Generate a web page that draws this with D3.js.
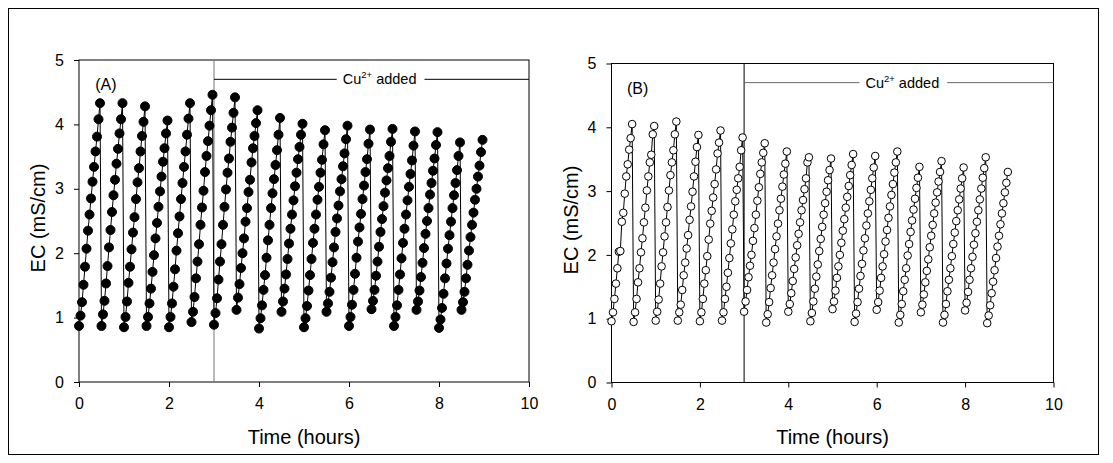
<!DOCTYPE html>
<html><head><meta charset="utf-8">
<script src="https://cdn.jsdelivr.net/npm/d3@7"></script>
<style>
html,body{margin:0;padding:0;background:#fff;}
svg{display:block;font-family:"Liberation Sans",Arial,sans-serif;}
</style></head>
<body>
<svg id="chart" width="1113" height="463"></svg>
<script>
// ---- data ----
const sampleOffsetsMin = [0,2,4,6,8,10,12,14,16,18,20,22,24,26,28];
const cycleStartHours = [0,0.5,1,1.5,2,2.5,3,3.5,4,4.5,5,5.5,6,6.5,7,7.5,8,8.5];
const xTicks = [0,2,4,6,8,10];
const yTicks = [0,1,2,3,4,5];
const cuAddedHour = 3;
const cuLabelLevel = 4.7;

const ecA = [
 [0.87,1.03,1.24,1.51,1.79,2.07,2.35,2.60,2.85,3.11,3.34,3.58,3.81,4.08,4.33],
 [0.87,1.05,1.26,1.53,1.80,2.09,2.36,2.64,2.90,3.14,3.39,3.62,3.86,4.08,4.33],
 [0.85,1.01,1.25,1.54,1.79,2.06,2.32,2.56,2.84,3.10,3.32,3.58,3.82,4.04,4.28],
 [0.87,1.01,1.22,1.45,1.71,1.97,2.23,2.47,2.72,2.96,3.19,3.42,3.63,3.86,4.06],
 [0.85,1.01,1.22,1.48,1.75,2.04,2.31,2.57,2.84,3.09,3.34,3.58,3.84,4.09,4.33],
 [0.93,1.09,1.32,1.61,1.87,2.14,2.44,2.71,2.97,3.26,3.51,3.74,3.98,4.22,4.46],
 [0.89,1.07,1.30,1.59,1.87,2.14,2.44,2.72,2.99,3.25,3.47,3.73,3.95,4.18,4.42],
 [1.12,1.31,1.52,1.77,2.00,2.23,2.49,2.70,2.95,3.14,3.41,3.63,3.82,4.02,4.22],
 [0.83,0.99,1.19,1.43,1.66,1.93,2.20,2.44,2.70,2.93,3.15,3.37,3.60,3.84,4.10],
 [1.09,1.25,1.45,1.67,1.91,2.15,2.38,2.60,2.82,3.04,3.25,3.46,3.65,3.84,4.01],
 [0.85,0.99,1.18,1.42,1.66,1.91,2.16,2.38,2.60,2.83,3.03,3.25,3.45,3.69,3.91],
 [1.09,1.22,1.40,1.62,1.86,2.09,2.33,2.54,2.74,2.96,3.15,3.35,3.55,3.77,3.98],
 [0.87,1.01,1.20,1.43,1.68,1.93,2.18,2.40,2.61,2.84,3.05,3.26,3.46,3.70,3.92],
 [1.13,1.26,1.43,1.65,1.87,2.10,2.33,2.53,2.73,2.94,3.13,3.32,3.51,3.73,3.93],
 [0.87,1.01,1.19,1.43,1.67,1.92,2.16,2.38,2.60,2.82,3.03,3.23,3.44,3.67,3.89],
 [1.12,1.25,1.42,1.63,1.85,2.08,2.30,2.50,2.70,2.91,3.09,3.28,3.47,3.68,3.88],
 [0.84,0.97,1.15,1.37,1.61,1.84,2.07,2.28,2.49,2.70,2.90,3.09,3.29,3.51,3.72],
 [1.12,1.24,1.40,1.61,1.82,2.04,2.25,2.44,2.63,2.83,3.00,3.19,3.36,3.57,3.76]
];

const ecB = [
 [0.96,1.10,1.31,1.55,1.79,2.05,2.06,2.52,2.66,2.96,3.23,3.42,3.65,3.83,4.05],
 [0.95,1.10,1.31,1.57,1.79,2.04,2.26,2.51,2.74,3.01,3.23,3.45,3.57,3.89,4.02],
 [0.97,1.11,1.30,1.55,1.82,2.04,2.29,2.51,2.75,3.01,3.25,3.45,3.64,3.89,4.09],
 [0.97,1.10,1.22,1.45,1.68,1.88,2.10,2.31,2.55,2.76,2.99,3.23,3.46,3.69,3.88],
 [0.96,1.10,1.31,1.55,1.76,1.98,2.24,2.49,2.69,2.90,3.11,3.34,3.59,3.76,3.95],
 [0.97,1.10,1.31,1.50,1.72,1.95,2.18,2.40,2.63,2.84,3.02,3.20,3.38,3.64,3.84],
 [1.11,1.27,1.45,1.65,1.83,2.00,2.22,2.42,2.63,2.85,3.06,3.27,3.45,3.60,3.75],
 [0.94,1.07,1.26,1.48,1.68,1.88,2.09,2.29,2.49,2.70,2.88,3.07,3.26,3.43,3.62],
 [1.11,1.23,1.40,1.59,1.78,1.96,2.15,2.33,2.51,2.70,2.86,3.03,3.20,3.45,3.53],
 [0.96,1.09,1.27,1.47,1.66,1.85,2.06,2.25,2.44,2.63,2.81,2.99,3.17,3.33,3.51],
 [1.15,1.27,1.44,1.64,1.82,2.00,2.19,2.38,2.56,2.74,2.91,3.08,3.25,3.41,3.58],
 [0.95,1.08,1.26,1.47,1.67,1.86,2.07,2.26,2.46,2.65,2.84,3.02,3.20,3.37,3.55],
 [1.14,1.26,1.44,1.64,1.82,2.01,2.21,2.39,2.58,2.76,2.94,3.11,3.29,3.45,3.62],
 [0.94,1.06,1.23,1.43,1.61,1.79,1.99,2.17,2.36,2.54,2.71,2.88,3.05,3.21,3.38],
 [1.10,1.22,1.38,1.57,1.75,1.93,2.12,2.30,2.47,2.65,2.82,2.98,3.15,3.30,3.47],
 [0.94,1.06,1.23,1.43,1.61,1.79,1.98,2.17,2.35,2.53,2.70,2.87,3.04,3.20,3.37],
 [1.13,1.25,1.42,1.61,1.79,1.97,2.16,2.34,2.52,2.70,2.87,3.04,3.21,3.36,3.53],
 [0.93,1.05,1.21,1.40,1.58,1.76,1.95,2.13,2.30,2.48,2.65,2.81,2.98,3.13,3.30]
];

// ---- helpers ----
function toPoints(ec){
  const pts = [];
  ec.forEach((cyc, ci) => cyc.forEach((v, j) => {
    pts.push({t: cycleStartHours[ci] + sampleOffsetsMin[j]/60, v: v});
  }));
  return pts;
}

const svg = d3.select('#chart');
svg.append('rect').attr('x',8.5).attr('y',8.5).attr('width',1090).attr('height',446)
  .attr('fill','none').attr('stroke','#000').attr('stroke-width',1);

function panel(cfg){
  const x = d3.scaleLinear().domain([0,10]).range([cfg.left, cfg.right]);
  const y = d3.scaleLinear().domain([0,5]).range([cfg.bottom, cfg.top]);
  const g = svg.append('g');

  // axes
  const ya = g.append('g').attr('transform',`translate(${cfg.left},0)`)
    .call(d3.axisLeft(y).tickValues(yTicks).tickSize(5).tickPadding(10).tickFormat(d3.format('d')));
  const xa = g.append('g').attr('transform',`translate(0,${cfg.bottom})`)
    .call(d3.axisBottom(x).tickValues(xTicks).tickSize(5).tickPadding(11).tickFormat(d3.format('d')));
  [ya, xa].forEach(a => {
    a.select('.domain').remove();
    a.selectAll('line').attr('stroke','#000');
    a.selectAll('text').attr('font-size',16).attr('fill','#000')
      .attr('font-family','"Liberation Sans",Arial,sans-serif');
  });

  // frame
  g.append('rect').attr('x',cfg.left).attr('y',cfg.top)
    .attr('width',cfg.right-cfg.left).attr('height',cfg.bottom-cfg.top)
    .attr('fill','none').attr('stroke','#000').attr('stroke-width',1);

  // Cu added marker
  g.append('line').attr('x1',x(cuAddedHour)).attr('x2',x(cuAddedHour))
    .attr('y1',y(5)).attr('y2',y(0)).attr('stroke',cfg.vColor).attr('stroke-width',1);

  const lbl = g.append('text').attr('x',x(cfg.cuTextX)).attr('y',y(cuLabelLevel)+cfg.cuDy)
    .attr('text-anchor','middle').attr('font-size',14.5).attr('fill','#000');
  lbl.append('tspan').text('Cu');
  lbl.append('tspan').attr('font-size',9.5).attr('dy',-6).text('2+');
  lbl.append('tspan').attr('dy',6).text(' added');
  const bb = lbl.node().getBBox();
  g.append('line').attr('x1',x(cuAddedHour)).attr('x2',bb.x-6)
    .attr('y1',y(cuLabelLevel)).attr('y2',y(cuLabelLevel)).attr('stroke',cfg.hColor).attr('stroke-width',1);
  g.append('line').attr('x1',bb.x+bb.width+8).attr('x2',x(10))
    .attr('y1',y(cuLabelLevel)).attr('y2',y(cuLabelLevel)).attr('stroke',cfg.hColor).attr('stroke-width',1);

  // panel tag
  g.append('text').attr('x',x(cfg.tagX)).attr('y',y(cfg.tagY)).attr('font-size',16).attr('fill','#000').text(cfg.tag);

  // data
  const pts = toPoints(cfg.ec);
  g.append('path').datum(pts)
    .attr('d', d3.line().x(d=>x(d.t)).y(d=>y(d.v)))
    .attr('fill','none').attr('stroke','#000').attr('stroke-width',1);
  g.selectAll('circle.pt').data(pts).enter().append('circle').attr('class','pt')
    .attr('cx',d=>x(d.t)).attr('cy',d=>y(d.v)).attr('r',cfg.r)
    .attr('fill',cfg.filled ? '#000' : '#fff')
    .attr('stroke','#000').attr('stroke-width',1);

  // axis titles
  g.append('text').attr('x',(cfg.left+cfg.right)/2).attr('y',444)
    .attr('text-anchor','middle').attr('font-size',20).attr('fill','#000').text('Time (hours)');
  g.append('text').attr('transform',`translate(${cfg.left-cfg.yTitleOff},${(cfg.top+cfg.bottom)/2-3}) rotate(-90)`)
    .attr('text-anchor','middle').attr('font-size',20).attr('fill','#000').text('EC (mS/cm)');
}

panel({left:79, right:529, top:60, bottom:382, ec:ecA, filled:true, r:4.5,
  tag:'(A)', tagX:0.36, tagY:4.53, cuTextX:6.68, cuDy:5, vColor:'#777', hColor:'#000', yTitleOff:34});
panel({left:611.5, right:1053.5, top:63.5, bottom:382.5, ec:ecB, filled:false, r:3.8,
  tag:'(B)', tagX:0.35, tagY:4.52, cuTextX:6.58, cuDy:5, vColor:'#000', hColor:'#666', yTitleOff:34});
</script>
</body></html>
